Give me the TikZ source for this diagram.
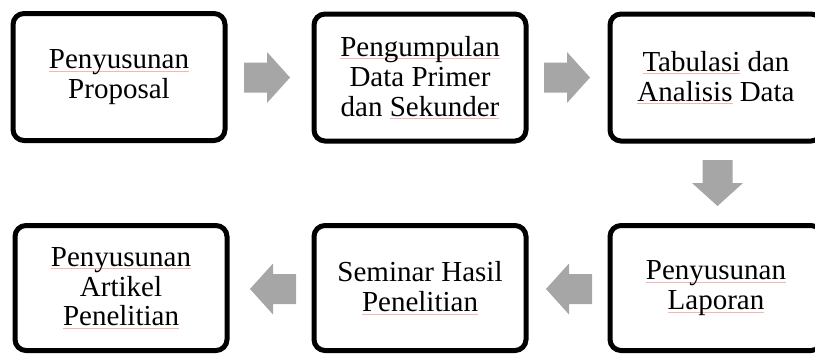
\documentclass[tikz,border=0pt]{standalone}
\usepackage{fontspec}
\setmainfont{Liberation Serif}
\usetikzlibrary{calc}
\definecolor{arrowgray}{HTML}{A6A6A6}
\definecolor{squigred}{HTML}{F5B5B5}
\newsavebox\sqbox
\newcommand\sq[1]{\sbox\sqbox{#1}\rlap{\color{squigred}\rule[-3pt]{\wd\sqbox}{0.6pt}}\usebox\sqbox}
\tikzset{
  stepbox/.style={draw=black, line width=5pt, rounded corners=11pt, fill=white,
    minimum width=212pt, minimum height=127pt, align=center,
    font=\fontsize{29}{30}\selectfont, inner sep=0pt},
  pics/blockarrow/.style={code={
    \fill[arrowgray] (0,-15) -- (23,-15) -- (23,-25.5) -- (46,0) -- (23,25.5) -- (23,15) -- (0,15) -- cycle;
  }}
}
\begin{document}
\begin{tikzpicture}[x=1pt,y=-1pt]
\useasboundingbox (0,0) rectangle (815,354);
\clip (0,0) rectangle (815,354);
% top row
\node[stepbox] (b1) at (119,77) {\sq{Penyusunan}\\Proposal};
\node[stepbox] (b2) at (420,77.5) {\sq{Pengumpulan}\\Data Primer\\dan \sq{Sekunder}};
\node[stepbox] (b3) at (716,77.5) {\sq{Tabulasi} dan\\\sq{Analisis} Data};
% bottom row
\node[stepbox, minimum height=125pt] (b4) at (121,288) {\sq{Penyusunan}\\Artikel\\\sq{Penelitian}};
\node[stepbox, minimum height=125pt] (b5) at (420,288) {Seminar Hasil\\\sq{Penelitian}};
\node[stepbox, minimum height=125pt] (b6) at (716,288) {\sq{Penyusunan}\\\sq{Laporan}};
% block arrows
\pic at (244,77.5) {blockarrow};
\pic at (544,77.5) {blockarrow};
\pic[rotate=-90] at (717.5,160) {blockarrow};
\pic[rotate=180] at (592,289) {blockarrow};
\pic[rotate=180] at (296,289) {blockarrow};
\end{tikzpicture}
\end{document}
